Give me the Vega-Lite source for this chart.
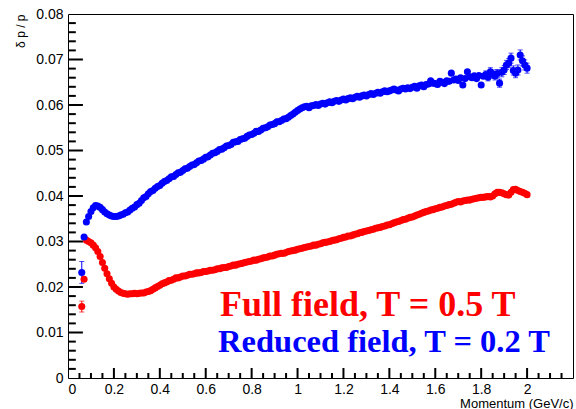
{
  "$schema": "https://vega.github.io/schema/vega-lite/v6.json",
  "width": 505,
  "height": 364,
  "autosize": {"type": "none"},
  "padding": {"left": 68, "top": 14, "right": 3, "bottom": 31},
  "background": "white",
  "config": {
    "view": {"stroke": "#000000", "strokeWidth": 1},
    "axis": {"domain": false, "grid": false, "labelColor": "#000000", "titleColor": "#000000", "labelFont": "Liberation Sans", "titleFont": "Liberation Sans", "labelFontSize": 14, "titleFontWeight": "normal"}
  },
  "datasets": {
    "res": [
      {"p":0.06,"s":"Full","v":0.0157,"lo":0.0145,"hi":0.0169},
      {"p":0.07,"s":"Full","v":0.0217},
      {"p":0.08,"s":"Full","v":0.0303},
      {"p":0.09,"s":"Full","v":0.0300},
      {"p":0.10,"s":"Full","v":0.0297},
      {"p":0.11,"s":"Full","v":0.0292},
      {"p":0.12,"s":"Full","v":0.0286},
      {"p":0.13,"s":"Full","v":0.0278},
      {"p":0.14,"s":"Full","v":0.0267},
      {"p":0.15,"s":"Full","v":0.0254},
      {"p":0.16,"s":"Full","v":0.0241},
      {"p":0.17,"s":"Full","v":0.0229},
      {"p":0.18,"s":"Full","v":0.0218},
      {"p":0.19,"s":"Full","v":0.0208},
      {"p":0.20,"s":"Full","v":0.0200},
      {"p":0.21,"s":"Full","v":0.0195},
      {"p":0.22,"s":"Full","v":0.0191},
      {"p":0.23,"s":"Full","v":0.0188},
      {"p":0.24,"s":"Full","v":0.0186},
      {"p":0.25,"s":"Full","v":0.0185},
      {"p":0.26,"s":"Full","v":0.0184},
      {"p":0.27,"s":"Full","v":0.0185},
      {"p":0.28,"s":"Full","v":0.0185},
      {"p":0.29,"s":"Full","v":0.0186},
      {"p":0.30,"s":"Full","v":0.0185},
      {"p":0.31,"s":"Full","v":0.0186},
      {"p":0.32,"s":"Full","v":0.0187},
      {"p":0.33,"s":"Full","v":0.0187},
      {"p":0.34,"s":"Full","v":0.0189},
      {"p":0.35,"s":"Full","v":0.0190},
      {"p":0.36,"s":"Full","v":0.0192},
      {"p":0.37,"s":"Full","v":0.0195},
      {"p":0.38,"s":"Full","v":0.0198},
      {"p":0.39,"s":"Full","v":0.0201},
      {"p":0.40,"s":"Full","v":0.0204},
      {"p":0.41,"s":"Full","v":0.0207},
      {"p":0.42,"s":"Full","v":0.0209},
      {"p":0.43,"s":"Full","v":0.0211},
      {"p":0.44,"s":"Full","v":0.0214},
      {"p":0.45,"s":"Full","v":0.0215},
      {"p":0.46,"s":"Full","v":0.0217},
      {"p":0.47,"s":"Full","v":0.0220},
      {"p":0.48,"s":"Full","v":0.0220},
      {"p":0.49,"s":"Full","v":0.0222},
      {"p":0.50,"s":"Full","v":0.0224},
      {"p":0.51,"s":"Full","v":0.0224},
      {"p":0.52,"s":"Full","v":0.0226},
      {"p":0.53,"s":"Full","v":0.0228},
      {"p":0.54,"s":"Full","v":0.0228},
      {"p":0.55,"s":"Full","v":0.0229},
      {"p":0.56,"s":"Full","v":0.0231},
      {"p":0.57,"s":"Full","v":0.0231},
      {"p":0.58,"s":"Full","v":0.0232},
      {"p":0.59,"s":"Full","v":0.0234},
      {"p":0.60,"s":"Full","v":0.0234},
      {"p":0.61,"s":"Full","v":0.0235},
      {"p":0.62,"s":"Full","v":0.0237},
      {"p":0.63,"s":"Full","v":0.0237},
      {"p":0.64,"s":"Full","v":0.0238},
      {"p":0.65,"s":"Full","v":0.0240},
      {"p":0.66,"s":"Full","v":0.0240},
      {"p":0.67,"s":"Full","v":0.0242},
      {"p":0.68,"s":"Full","v":0.0243},
      {"p":0.69,"s":"Full","v":0.0243},
      {"p":0.70,"s":"Full","v":0.0245},
      {"p":0.71,"s":"Full","v":0.0246},
      {"p":0.72,"s":"Full","v":0.0248},
      {"p":0.73,"s":"Full","v":0.0248},
      {"p":0.74,"s":"Full","v":0.0250},
      {"p":0.75,"s":"Full","v":0.0251},
      {"p":0.76,"s":"Full","v":0.0252},
      {"p":0.77,"s":"Full","v":0.0254},
      {"p":0.78,"s":"Full","v":0.0255},
      {"p":0.79,"s":"Full","v":0.0256},
      {"p":0.80,"s":"Full","v":0.0257},
      {"p":0.81,"s":"Full","v":0.0259},
      {"p":0.82,"s":"Full","v":0.0259},
      {"p":0.83,"s":"Full","v":0.0261},
      {"p":0.84,"s":"Full","v":0.0262},
      {"p":0.85,"s":"Full","v":0.0264},
      {"p":0.86,"s":"Full","v":0.0265},
      {"p":0.87,"s":"Full","v":0.0266},
      {"p":0.88,"s":"Full","v":0.0268},
      {"p":0.89,"s":"Full","v":0.0268},
      {"p":0.90,"s":"Full","v":0.0270},
      {"p":0.91,"s":"Full","v":0.0272},
      {"p":0.92,"s":"Full","v":0.0273},
      {"p":0.93,"s":"Full","v":0.0274},
      {"p":0.94,"s":"Full","v":0.0274},
      {"p":0.95,"s":"Full","v":0.0276},
      {"p":0.96,"s":"Full","v":0.0278},
      {"p":0.97,"s":"Full","v":0.0279},
      {"p":0.98,"s":"Full","v":0.0280},
      {"p":0.99,"s":"Full","v":0.0281},
      {"p":1.00,"s":"Full","v":0.0283},
      {"p":1.01,"s":"Full","v":0.0284},
      {"p":1.02,"s":"Full","v":0.0285},
      {"p":1.03,"s":"Full","v":0.0287},
      {"p":1.04,"s":"Full","v":0.0288},
      {"p":1.05,"s":"Full","v":0.0289},
      {"p":1.06,"s":"Full","v":0.0290},
      {"p":1.07,"s":"Full","v":0.0292},
      {"p":1.08,"s":"Full","v":0.0292},
      {"p":1.09,"s":"Full","v":0.0294},
      {"p":1.10,"s":"Full","v":0.0295},
      {"p":1.11,"s":"Full","v":0.0297},
      {"p":1.12,"s":"Full","v":0.0298},
      {"p":1.13,"s":"Full","v":0.0299},
      {"p":1.14,"s":"Full","v":0.0300},
      {"p":1.15,"s":"Full","v":0.0302},
      {"p":1.16,"s":"Full","v":0.0303},
      {"p":1.17,"s":"Full","v":0.0304},
      {"p":1.18,"s":"Full","v":0.0306},
      {"p":1.19,"s":"Full","v":0.0307},
      {"p":1.20,"s":"Full","v":0.0309},
      {"p":1.21,"s":"Full","v":0.0310},
      {"p":1.22,"s":"Full","v":0.0312},
      {"p":1.23,"s":"Full","v":0.0312},
      {"p":1.24,"s":"Full","v":0.0314},
      {"p":1.25,"s":"Full","v":0.0316},
      {"p":1.26,"s":"Full","v":0.0317},
      {"p":1.27,"s":"Full","v":0.0319},
      {"p":1.28,"s":"Full","v":0.0320},
      {"p":1.29,"s":"Full","v":0.0322},
      {"p":1.30,"s":"Full","v":0.0323},
      {"p":1.31,"s":"Full","v":0.0324},
      {"p":1.32,"s":"Full","v":0.0326},
      {"p":1.33,"s":"Full","v":0.0327},
      {"p":1.34,"s":"Full","v":0.0329},
      {"p":1.35,"s":"Full","v":0.0330},
      {"p":1.36,"s":"Full","v":0.0331},
      {"p":1.37,"s":"Full","v":0.0333},
      {"p":1.38,"s":"Full","v":0.0334},
      {"p":1.39,"s":"Full","v":0.0336},
      {"p":1.40,"s":"Full","v":0.0337},
      {"p":1.41,"s":"Full","v":0.0339},
      {"p":1.42,"s":"Full","v":0.0341},
      {"p":1.43,"s":"Full","v":0.0343},
      {"p":1.44,"s":"Full","v":0.0344},
      {"p":1.45,"s":"Full","v":0.0346},
      {"p":1.46,"s":"Full","v":0.0348},
      {"p":1.47,"s":"Full","v":0.0349},
      {"p":1.48,"s":"Full","v":0.0351},
      {"p":1.49,"s":"Full","v":0.0353},
      {"p":1.50,"s":"Full","v":0.0354},
      {"p":1.51,"s":"Full","v":0.0356},
      {"p":1.52,"s":"Full","v":0.0358},
      {"p":1.53,"s":"Full","v":0.0360},
      {"p":1.54,"s":"Full","v":0.0362},
      {"p":1.55,"s":"Full","v":0.0364},
      {"p":1.56,"s":"Full","v":0.0366},
      {"p":1.57,"s":"Full","v":0.0367},
      {"p":1.58,"s":"Full","v":0.0369},
      {"p":1.59,"s":"Full","v":0.0370},
      {"p":1.60,"s":"Full","v":0.0372},
      {"p":1.61,"s":"Full","v":0.0373},
      {"p":1.62,"s":"Full","v":0.0375},
      {"p":1.63,"s":"Full","v":0.0376},
      {"p":1.64,"s":"Full","v":0.0378},
      {"p":1.65,"s":"Full","v":0.0379},
      {"p":1.66,"s":"Full","v":0.0381},
      {"p":1.67,"s":"Full","v":0.0382},
      {"p":1.68,"s":"Full","v":0.0384},
      {"p":1.69,"s":"Full","v":0.0386},
      {"p":1.70,"s":"Full","v":0.0388},
      {"p":1.71,"s":"Full","v":0.0387},
      {"p":1.72,"s":"Full","v":0.0389},
      {"p":1.73,"s":"Full","v":0.0390},
      {"p":1.74,"s":"Full","v":0.0391},
      {"p":1.75,"s":"Full","v":0.0391},
      {"p":1.76,"s":"Full","v":0.0393},
      {"p":1.77,"s":"Full","v":0.0394},
      {"p":1.78,"s":"Full","v":0.0395},
      {"p":1.79,"s":"Full","v":0.0396},
      {"p":1.80,"s":"Full","v":0.0397},
      {"p":1.81,"s":"Full","v":0.0397},
      {"p":1.82,"s":"Full","v":0.0398},
      {"p":1.83,"s":"Full","v":0.0399},
      {"p":1.84,"s":"Full","v":0.0398},
      {"p":1.85,"s":"Full","v":0.0400},
      {"p":1.86,"s":"Full","v":0.0405},
      {"p":1.87,"s":"Full","v":0.0408},
      {"p":1.88,"s":"Full","v":0.0408},
      {"p":1.89,"s":"Full","v":0.0407},
      {"p":1.90,"s":"Full","v":0.0405},
      {"p":1.91,"s":"Full","v":0.0403},
      {"p":1.92,"s":"Full","v":0.0402},
      {"p":1.93,"s":"Full","v":0.0408},
      {"p":1.94,"s":"Full","v":0.0414},
      {"p":1.95,"s":"Full","v":0.0415},
      {"p":1.96,"s":"Full","v":0.0412},
      {"p":1.97,"s":"Full","v":0.0410},
      {"p":1.98,"s":"Full","v":0.0408},
      {"p":1.99,"s":"Full","v":0.0406},
      {"p":2.00,"s":"Full","v":0.0403},
      {"p":0.06,"s":"Reduced","v":0.0232,"lo":0.0208,"hi":0.0256},
      {"p":0.07,"s":"Reduced","v":0.0310},
      {"p":0.08,"s":"Reduced","v":0.0343},
      {"p":0.09,"s":"Reduced","v":0.0355},
      {"p":0.10,"s":"Reduced","v":0.0366},
      {"p":0.11,"s":"Reduced","v":0.0374},
      {"p":0.12,"s":"Reduced","v":0.0379},
      {"p":0.13,"s":"Reduced","v":0.0378},
      {"p":0.14,"s":"Reduced","v":0.0375},
      {"p":0.15,"s":"Reduced","v":0.0370},
      {"p":0.16,"s":"Reduced","v":0.0365},
      {"p":0.17,"s":"Reduced","v":0.0361},
      {"p":0.18,"s":"Reduced","v":0.0358},
      {"p":0.19,"s":"Reduced","v":0.0356},
      {"p":0.20,"s":"Reduced","v":0.0355},
      {"p":0.21,"s":"Reduced","v":0.0355},
      {"p":0.22,"s":"Reduced","v":0.0356},
      {"p":0.23,"s":"Reduced","v":0.0358},
      {"p":0.24,"s":"Reduced","v":0.0360},
      {"p":0.25,"s":"Reduced","v":0.0363},
      {"p":0.26,"s":"Reduced","v":0.0365},
      {"p":0.27,"s":"Reduced","v":0.0369},
      {"p":0.28,"s":"Reduced","v":0.0373},
      {"p":0.29,"s":"Reduced","v":0.0376},
      {"p":0.30,"s":"Reduced","v":0.0381},
      {"p":0.31,"s":"Reduced","v":0.0384},
      {"p":0.32,"s":"Reduced","v":0.0390},
      {"p":0.33,"s":"Reduced","v":0.0396},
      {"p":0.34,"s":"Reduced","v":0.0399},
      {"p":0.35,"s":"Reduced","v":0.0405},
      {"p":0.36,"s":"Reduced","v":0.0410},
      {"p":0.37,"s":"Reduced","v":0.0412},
      {"p":0.38,"s":"Reduced","v":0.0417},
      {"p":0.39,"s":"Reduced","v":0.0421},
      {"p":0.40,"s":"Reduced","v":0.0423},
      {"p":0.41,"s":"Reduced","v":0.0428},
      {"p":0.42,"s":"Reduced","v":0.0432},
      {"p":0.43,"s":"Reduced","v":0.0434},
      {"p":0.44,"s":"Reduced","v":0.0438},
      {"p":0.45,"s":"Reduced","v":0.0442},
      {"p":0.46,"s":"Reduced","v":0.0443},
      {"p":0.47,"s":"Reduced","v":0.0447},
      {"p":0.48,"s":"Reduced","v":0.0451},
      {"p":0.49,"s":"Reduced","v":0.0452},
      {"p":0.50,"s":"Reduced","v":0.0456},
      {"p":0.51,"s":"Reduced","v":0.0460},
      {"p":0.52,"s":"Reduced","v":0.0461},
      {"p":0.53,"s":"Reduced","v":0.0465},
      {"p":0.54,"s":"Reduced","v":0.0468},
      {"p":0.55,"s":"Reduced","v":0.0469},
      {"p":0.56,"s":"Reduced","v":0.0473},
      {"p":0.57,"s":"Reduced","v":0.0477},
      {"p":0.58,"s":"Reduced","v":0.0478},
      {"p":0.59,"s":"Reduced","v":0.0481},
      {"p":0.60,"s":"Reduced","v":0.0485},
      {"p":0.61,"s":"Reduced","v":0.0486},
      {"p":0.62,"s":"Reduced","v":0.0490},
      {"p":0.63,"s":"Reduced","v":0.0494},
      {"p":0.64,"s":"Reduced","v":0.0495},
      {"p":0.65,"s":"Reduced","v":0.0498},
      {"p":0.66,"s":"Reduced","v":0.0502},
      {"p":0.67,"s":"Reduced","v":0.0503},
      {"p":0.68,"s":"Reduced","v":0.0506},
      {"p":0.69,"s":"Reduced","v":0.0510},
      {"p":0.70,"s":"Reduced","v":0.0511},
      {"p":0.71,"s":"Reduced","v":0.0513},
      {"p":0.72,"s":"Reduced","v":0.0518},
      {"p":0.73,"s":"Reduced","v":0.0519},
      {"p":0.74,"s":"Reduced","v":0.0520},
      {"p":0.75,"s":"Reduced","v":0.0524},
      {"p":0.76,"s":"Reduced","v":0.0526},
      {"p":0.77,"s":"Reduced","v":0.0527},
      {"p":0.78,"s":"Reduced","v":0.0531},
      {"p":0.79,"s":"Reduced","v":0.0534},
      {"p":0.80,"s":"Reduced","v":0.0535},
      {"p":0.81,"s":"Reduced","v":0.0538},
      {"p":0.82,"s":"Reduced","v":0.0542},
      {"p":0.83,"s":"Reduced","v":0.0542},
      {"p":0.84,"s":"Reduced","v":0.0545},
      {"p":0.85,"s":"Reduced","v":0.0549},
      {"p":0.86,"s":"Reduced","v":0.0550},
      {"p":0.87,"s":"Reduced","v":0.0552},
      {"p":0.88,"s":"Reduced","v":0.0556},
      {"p":0.89,"s":"Reduced","v":0.0557},
      {"p":0.90,"s":"Reduced","v":0.0559},
      {"p":0.91,"s":"Reduced","v":0.0563},
      {"p":0.92,"s":"Reduced","v":0.0563},
      {"p":0.93,"s":"Reduced","v":0.0566},
      {"p":0.94,"s":"Reduced","v":0.0569},
      {"p":0.95,"s":"Reduced","v":0.0570},
      {"p":0.96,"s":"Reduced","v":0.0573},
      {"p":0.97,"s":"Reduced","v":0.0577},
      {"p":0.98,"s":"Reduced","v":0.0580},
      {"p":0.99,"s":"Reduced","v":0.0584},
      {"p":1.00,"s":"Reduced","v":0.0588},
      {"p":1.01,"s":"Reduced","v":0.0591},
      {"p":1.02,"s":"Reduced","v":0.0594},
      {"p":1.03,"s":"Reduced","v":0.0596},
      {"p":1.04,"s":"Reduced","v":0.0597},
      {"p":1.05,"s":"Reduced","v":0.0594},
      {"p":1.06,"s":"Reduced","v":0.0598},
      {"p":1.07,"s":"Reduced","v":0.0599},
      {"p":1.08,"s":"Reduced","v":0.0601},
      {"p":1.09,"s":"Reduced","v":0.0599},
      {"p":1.10,"s":"Reduced","v":0.0602},
      {"p":1.11,"s":"Reduced","v":0.0604},
      {"p":1.12,"s":"Reduced","v":0.0602},
      {"p":1.13,"s":"Reduced","v":0.0605},
      {"p":1.14,"s":"Reduced","v":0.0607},
      {"p":1.15,"s":"Reduced","v":0.0605},
      {"p":1.16,"s":"Reduced","v":0.0608},
      {"p":1.17,"s":"Reduced","v":0.0610},
      {"p":1.18,"s":"Reduced","v":0.0608},
      {"p":1.19,"s":"Reduced","v":0.0611},
      {"p":1.20,"s":"Reduced","v":0.0613},
      {"p":1.21,"s":"Reduced","v":0.0611},
      {"p":1.22,"s":"Reduced","v":0.0614},
      {"p":1.23,"s":"Reduced","v":0.0616},
      {"p":1.24,"s":"Reduced","v":0.0614},
      {"p":1.25,"s":"Reduced","v":0.0617},
      {"p":1.26,"s":"Reduced","v":0.0619},
      {"p":1.27,"s":"Reduced","v":0.0617},
      {"p":1.28,"s":"Reduced","v":0.0620},
      {"p":1.29,"s":"Reduced","v":0.0622},
      {"p":1.30,"s":"Reduced","v":0.0620},
      {"p":1.31,"s":"Reduced","v":0.0623},
      {"p":1.32,"s":"Reduced","v":0.0625},
      {"p":1.33,"s":"Reduced","v":0.0623},
      {"p":1.34,"s":"Reduced","v":0.0626},
      {"p":1.35,"s":"Reduced","v":0.0628},
      {"p":1.36,"s":"Reduced","v":0.0626},
      {"p":1.37,"s":"Reduced","v":0.0629},
      {"p":1.38,"s":"Reduced","v":0.0631},
      {"p":1.39,"s":"Reduced","v":0.0629},
      {"p":1.40,"s":"Reduced","v":0.0631},
      {"p":1.41,"s":"Reduced","v":0.0633},
      {"p":1.42,"s":"Reduced","v":0.0635},
      {"p":1.43,"s":"Reduced","v":0.0633},
      {"p":1.44,"s":"Reduced","v":0.0631},
      {"p":1.45,"s":"Reduced","v":0.0635},
      {"p":1.46,"s":"Reduced","v":0.0637},
      {"p":1.47,"s":"Reduced","v":0.0635},
      {"p":1.48,"s":"Reduced","v":0.0638},
      {"p":1.49,"s":"Reduced","v":0.0636},
      {"p":1.50,"s":"Reduced","v":0.0639},
      {"p":1.51,"s":"Reduced","v":0.0641},
      {"p":1.52,"s":"Reduced","v":0.0637},
      {"p":1.53,"s":"Reduced","v":0.0642},
      {"p":1.54,"s":"Reduced","v":0.0644},
      {"p":1.55,"s":"Reduced","v":0.0640},
      {"p":1.56,"s":"Reduced","v":0.0645},
      {"p":1.57,"s":"Reduced","v":0.0646},
      {"p":1.58,"s":"Reduced","v":0.0653},
      {"p":1.59,"s":"Reduced","v":0.0648},
      {"p":1.60,"s":"Reduced","v":0.0647},
      {"p":1.61,"s":"Reduced","v":0.0645},
      {"p":1.62,"s":"Reduced","v":0.0652},
      {"p":1.63,"s":"Reduced","v":0.0650},
      {"p":1.64,"s":"Reduced","v":0.0647},
      {"p":1.65,"s":"Reduced","v":0.0653},
      {"p":1.66,"s":"Reduced","v":0.0652},
      {"p":1.67,"s":"Reduced","v":0.0670},
      {"p":1.68,"s":"Reduced","v":0.0655},
      {"p":1.69,"s":"Reduced","v":0.0657},
      {"p":1.70,"s":"Reduced","v":0.0654},
      {"p":1.71,"s":"Reduced","v":0.0660},
      {"p":1.72,"s":"Reduced","v":0.0644},
      {"p":1.73,"s":"Reduced","v":0.0658},
      {"p":1.74,"s":"Reduced","v":0.0673},
      {"p":1.75,"s":"Reduced","v":0.0662},
      {"p":1.76,"s":"Reduced","v":0.0660},
      {"p":1.77,"s":"Reduced","v":0.0664},
      {"p":1.78,"s":"Reduced","v":0.0658},
      {"p":1.79,"s":"Reduced","v":0.0665},
      {"p":1.80,"s":"Reduced","v":0.0644},
      {"p":1.81,"s":"Reduced","v":0.0663},
      {"p":1.82,"s":"Reduced","v":0.0667,"lo":0.0659,"hi":0.0675},
      {"p":1.83,"s":"Reduced","v":0.0661,"lo":0.0653,"hi":0.0669},
      {"p":1.84,"s":"Reduced","v":0.0673,"lo":0.0664,"hi":0.0682},
      {"p":1.85,"s":"Reduced","v":0.0668,"lo":0.0659,"hi":0.0677},
      {"p":1.86,"s":"Reduced","v":0.0664,"lo":0.0655,"hi":0.0673},
      {"p":1.87,"s":"Reduced","v":0.0669,"lo":0.0660,"hi":0.0678},
      {"p":1.88,"s":"Reduced","v":0.0648,"lo":0.0639,"hi":0.0657},
      {"p":1.89,"s":"Reduced","v":0.0672,"lo":0.0662,"hi":0.0682},
      {"p":1.90,"s":"Reduced","v":0.0677,"lo":0.0667,"hi":0.0687},
      {"p":1.91,"s":"Reduced","v":0.0688,"lo":0.0678,"hi":0.0698},
      {"p":1.92,"s":"Reduced","v":0.0692,"lo":0.0682,"hi":0.0702},
      {"p":1.93,"s":"Reduced","v":0.0703,"lo":0.0692,"hi":0.0714},
      {"p":1.94,"s":"Reduced","v":0.0676,"lo":0.0666,"hi":0.0686},
      {"p":1.95,"s":"Reduced","v":0.0670,"lo":0.0660,"hi":0.0680},
      {"p":1.96,"s":"Reduced","v":0.0677,"lo":0.0666,"hi":0.0688},
      {"p":1.97,"s":"Reduced","v":0.0710,"lo":0.0699,"hi":0.0721},
      {"p":1.98,"s":"Reduced","v":0.0697,"lo":0.0686,"hi":0.0708},
      {"p":1.99,"s":"Reduced","v":0.0688,"lo":0.0677,"hi":0.0699},
      {"p":2.00,"s":"Reduced","v":0.0681,"lo":0.0670,"hi":0.0692}
    ],
    "labels": [
      {"lx": 0.662, "ly": 0.0136, "txt": "Full field, T = 0.5 T", "s": "Full"},
      {"lx": 0.654, "ly": 0.0057, "txt": "Reduced field, T = 0.2 T", "s": "Reduced"}
    ],
    "xmajor": [{"tv":0.2},{"tv":0.4},{"tv":0.6},{"tv":0.8},{"tv":1.0},{"tv":1.2},{"tv":1.4},{"tv":1.6},{"tv":1.8},{"tv":2.0}],
    "xminor": [{"tv":0.05},{"tv":0.1},{"tv":0.15},{"tv":0.25},{"tv":0.3},{"tv":0.35},{"tv":0.45},{"tv":0.5},{"tv":0.55},{"tv":0.65},{"tv":0.7},{"tv":0.75},{"tv":0.85},{"tv":0.9},{"tv":0.95},{"tv":1.05},{"tv":1.1},{"tv":1.15},{"tv":1.25},{"tv":1.3},{"tv":1.35},{"tv":1.45},{"tv":1.5},{"tv":1.55},{"tv":1.65},{"tv":1.7},{"tv":1.75},{"tv":1.85},{"tv":1.9},{"tv":1.95},{"tv":2.05},{"tv":2.1},{"tv":2.15}],
    "ymajor": [{"tv":0.01},{"tv":0.02},{"tv":0.03},{"tv":0.04},{"tv":0.05},{"tv":0.06},{"tv":0.07}],
    "yminor": [{"tv":0.002},{"tv":0.004},{"tv":0.006},{"tv":0.008},{"tv":0.012},{"tv":0.014},{"tv":0.016},{"tv":0.018},{"tv":0.022},{"tv":0.024},{"tv":0.026},{"tv":0.028},{"tv":0.032},{"tv":0.034},{"tv":0.036},{"tv":0.038},{"tv":0.042},{"tv":0.044},{"tv":0.046},{"tv":0.048},{"tv":0.052},{"tv":0.054},{"tv":0.056},{"tv":0.058},{"tv":0.062},{"tv":0.064},{"tv":0.066},{"tv":0.068},{"tv":0.072},{"tv":0.074},{"tv":0.076},{"tv":0.078}]
  },
  "encoding": {
    "x": {"type": "quantitative", "title": "Momentum (GeV/c)",
          "scale": {"domain": [0, 2.2], "nice": false, "zero": false},
          "axis": {"orient": "bottom", "values": [0, 0.2, 0.4, 0.6, 0.8, 1, 1.2, 1.4, 1.6, 1.8, 2], "format": ".1~f", "ticks": false, "labelPadding": 4, "titleAnchor": "end", "titleFontSize": 13, "titlePadding": 1}},
    "y": {"type": "quantitative", "title": "δ p / p",
          "scale": {"domain": [0, 0.08], "nice": false, "zero": false},
          "axis": {"orient": "left", "values": [0, 0.01, 0.02, 0.03, 0.04, 0.05, 0.06, 0.07, 0.08], "format": ".2~f", "ticks": false, "labelPadding": 5, "titleAnchor": "end", "titleFontSize": 12, "titlePadding": 8}}
  },
  "layer": [
    {
      "data": {"name": "res"},
      "transform": [{"filter": "isValid(datum.lo)"}],
      "mark": {"type": "rule", "strokeWidth": 1},
      "encoding": {
        "x": {"field": "p"},
        "y": {"field": "lo"},
        "y2": {"field": "hi"},
        "color": {"field": "s", "type": "nominal", "scale": {"domain": ["Full", "Reduced"], "range": ["#ff0000", "#0000ff"]}, "legend": null}
      }
    },
    {
      "data": {"name": "res"},
      "transform": [{"filter": "isValid(datum.lo)"}],
      "mark": {"type": "tick", "orient": "horizontal", "size": 5, "thickness": 1},
      "encoding": {
        "x": {"field": "p"},
        "y": {"field": "lo"},
        "color": {"field": "s", "type": "nominal"}
      }
    },
    {
      "data": {"name": "res"},
      "transform": [{"filter": "isValid(datum.hi)"}],
      "mark": {"type": "tick", "orient": "horizontal", "size": 5, "thickness": 1},
      "encoding": {
        "x": {"field": "p"},
        "y": {"field": "hi"},
        "color": {"field": "s", "type": "nominal"}
      }
    },
    {
      "data": {"name": "res"},
      "mark": {"type": "circle", "size": 50, "opacity": 1},
      "encoding": {
        "x": {"field": "p"},
        "y": {"field": "v"},
        "color": {"field": "s", "type": "nominal"}
      }
    },
    {
      "data": {"name": "labels"},
      "transform": [{"filter": "datum.s == 'Full'"}],
      "mark": {"type": "text", "font": "Liberation Serif", "fontWeight": "bold", "fontSize": 36, "align": "left", "baseline": "alphabetic"},
      "encoding": {
        "x": {"field": "lx"},
        "y": {"field": "ly"},
        "text": {"field": "txt"},
        "color": {"field": "s", "type": "nominal"}
      }
    },
    {
      "data": {"name": "labels"},
      "transform": [{"filter": "datum.s == 'Reduced'"}],
      "mark": {"type": "text", "font": "Liberation Serif", "fontWeight": "bold", "fontSize": 32.5, "align": "left", "baseline": "alphabetic"},
      "encoding": {
        "x": {"field": "lx"},
        "y": {"field": "ly"},
        "text": {"field": "txt"},
        "color": {"field": "s", "type": "nominal"}
      }
    },
    {
      "data": {"name": "xmajor"},
      "mark": {"type": "rule", "color": "#000000", "strokeWidth": 2},
      "encoding": {"x": {"field": "tv"}, "y": {"datum": 0}, "y2": {"datum": 0.0022}}
    },
    {
      "data": {"name": "xminor"},
      "mark": {"type": "rule", "color": "#000000", "strokeWidth": 2},
      "encoding": {"x": {"field": "tv"}, "y": {"datum": 0}, "y2": {"datum": 0.0011}}
    },
    {
      "data": {"name": "ymajor"},
      "mark": {"type": "rule", "color": "#000000", "strokeWidth": 2},
      "encoding": {"y": {"field": "tv"}, "x": {"datum": 0}, "x2": {"datum": 0.065}}
    },
    {
      "data": {"name": "yminor"},
      "mark": {"type": "rule", "color": "#000000", "strokeWidth": 2},
      "encoding": {"y": {"field": "tv"}, "x": {"datum": 0}, "x2": {"datum": 0.034}}
    }
  ]
}
